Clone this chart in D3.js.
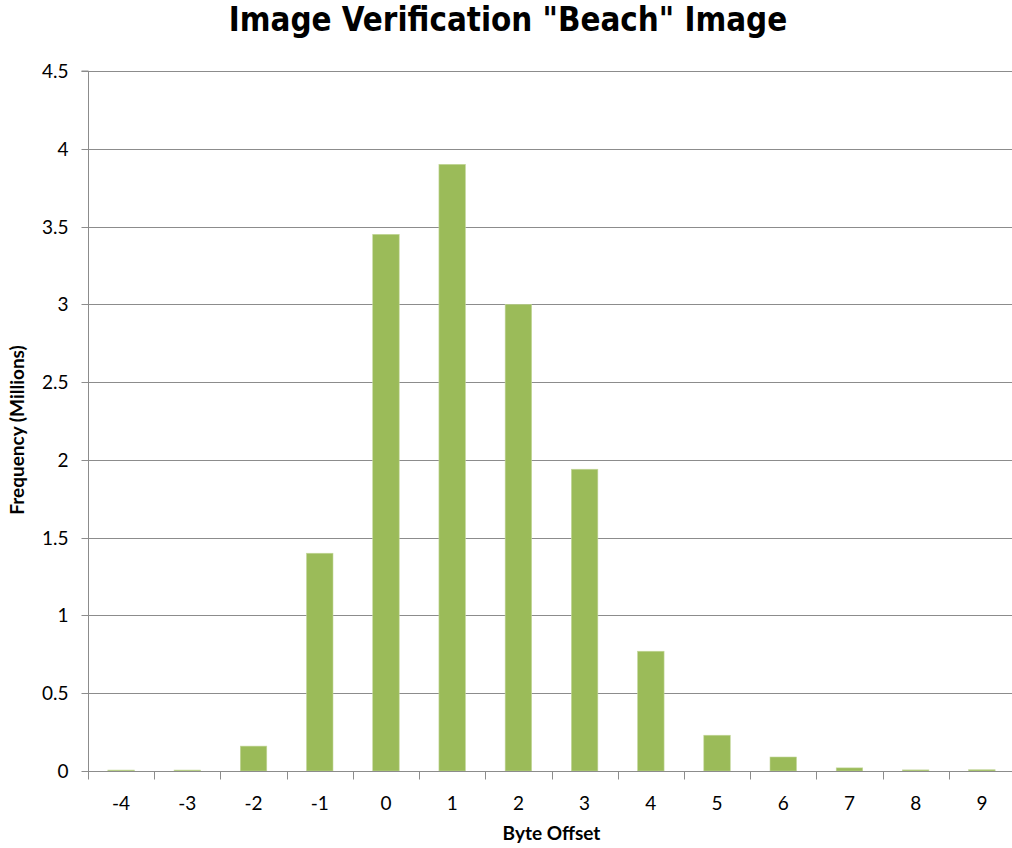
<!DOCTYPE html>
<html>
<head>
<meta charset="utf-8">
<script src="https://cdn.jsdelivr.net/npm/d3@7"></script>
<style>
  html, body { margin: 0; padding: 0; background: #fff; overflow: hidden; }
  svg { display: block; }
  text { fill: #000; }
</style>
</head>
<body>
<svg id="chart" width="1012" height="848"></svg>
<script>
// Byte offset histogram, frequency in millions
const offsets = ["-4", "-3", "-2", "-1", "0", "1", "2", "3", "4", "5", "6", "7", "8", "9"];
const frequency = [0.006, 0.006, 0.16, 1.4, 3.45, 3.9, 3.0, 1.94, 0.77, 0.23, 0.09, 0.02, 0.007, 0.008];
const yTicks = [0, 0.5, 1, 1.5, 2, 2.5, 3, 3.5, 4, 4.5];

const svg = d3.select("#chart");
// plot area runs slightly past the right edge of the canvas
const plot = { left: 88, right: 1015, top: 71, bottom: 771 };

// one cell per offset; bars take 40% of each cell, centred
const cell = d3.scaleBand().domain(offsets).range([plot.left, plot.right]).padding(0);
const x = d3.scaleBand().domain(offsets).range([plot.left, plot.right]).paddingInner(0.6).paddingOuter(0.3);
const y = d3.scaleLinear().domain([0, 4.5]).range([plot.bottom, plot.top]);

const gridColor = "#8c8c8c";
const labelFont = "Lato, 'Open Sans', sans-serif";

// horizontal gridlines
svg.append("g")
  .selectAll("line")
  .data(yTicks.filter(d => d > 0))
  .join("line")
  .attr("x1", plot.left).attr("x2", plot.right)
  .attr("y1", d => Math.round(y(d)) + 0.5).attr("y2", d => Math.round(y(d)) + 0.5)
  .attr("stroke", gridColor).attr("stroke-width", 1);

// bars
svg.append("g")
  .selectAll("rect")
  .data(frequency)
  .join("rect")
  .attr("x", (d, i) => x(offsets[i]))
  .attr("width", x.bandwidth())
  .attr("y", d => y(d))
  .attr("height", d => y(0) - y(d))
  .attr("fill", "#9bbb59")
  .attr("stroke", "#c4d79b")
  .attr("stroke-width", 0.6);

// y axis
const yAxis = d3.axisLeft(y).tickValues(yTicks).tickSize(7).tickPadding(13).tickFormat(d3.format("~g"));
const gy = svg.append("g").attr("transform", `translate(${plot.left + 0.5},0)`).call(yAxis);
gy.select(".domain").attr("stroke", gridColor).attr("d", `M-7,${plot.top}H0V${plot.bottom}`);
gy.selectAll(".tick line").attr("stroke", gridColor);
gy.selectAll(".tick text").style("font-size", "19px").style("font-family", labelFont).attr("fill", "#000");
gy.selectAll(".tick").attr("transform", d => `translate(0,${Math.round(y(d)) + 0.5})`);

// x axis line with ticks at cell boundaries
const gx = svg.append("g").attr("transform", `translate(0,${plot.bottom + 0.5})`);
gx.append("line").attr("x1", plot.left).attr("x2", plot.right).attr("stroke", gridColor);
const edges = offsets.map(o => cell(o)).concat([plot.right]);
gx.selectAll("line.edge")
  .data(edges)
  .join("line")
  .attr("class", "edge")
  .attr("x1", d => Math.round(d) + 0.5).attr("x2", d => Math.round(d) + 0.5)
  .attr("y1", 0).attr("y2", 8)
  .attr("stroke", gridColor);
gx.selectAll("text")
  .data(offsets)
  .join("text")
  .attr("x", d => cell(d) + cell.bandwidth() / 2)
  .attr("y", 38)
  .attr("text-anchor", "middle")
  .style("font-family", labelFont)
  .style("font-size", "19px")
  .text(d => d);

// chart title, sized to span about 558px
const title = svg.append("text")
  .attr("x", 508).attr("y", 31)
  .attr("text-anchor", "middle")
  .style("font-family", "'DejaVu Sans Condensed', 'DejaVu Sans', sans-serif")
  .style("font-stretch", "condensed")
  .style("font-size", "30px").style("font-weight", "bold")
  .text('Image Verification "Beach" Image');
const w = title.node().getComputedTextLength();
if (w > 0) title.style("font-size", Math.min(33, 30 * 558 / w).toFixed(1) + "px");

svg.append("text")
  .attr("x", (plot.left + plot.right) / 2).attr("y", 840)
  .attr("text-anchor", "middle")
  .style("font-family", labelFont)
  .style("font-size", "19px").style("font-weight", "bold")
  .text("Byte Offset");

svg.append("text")
  .attr("transform", "translate(24,430) rotate(-90)")
  .attr("text-anchor", "middle")
  .style("font-family", labelFont)
  .style("font-size", "19px").style("font-weight", "bold")
  .text("Frequency (Millions)");
</script>
</body>
</html>
